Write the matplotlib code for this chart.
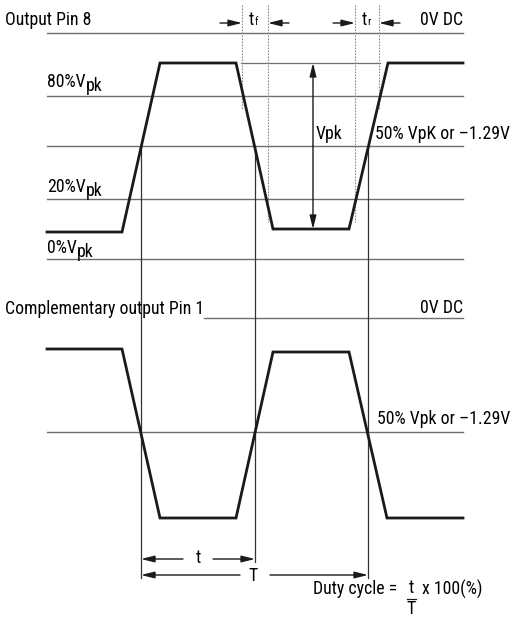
import matplotlib
matplotlib.use("Agg")
from matplotlib import pyplot as plt

plt.rcParams['font.family'] = ['Liberation Sans Narrow', 'DejaVu Sans Condensed', 'Roboto Condensed',
                               'Liberation Sans', 'DejaVu Sans']

# diagram coordinates (pixel-like units, y grows downward)
X_LEFT = 47
X_RIGHT = 463

# top waveform (Output Pin 8)
top_x = [47, 122, 160, 236, 273, 349, 388, 463]
top_y = [232, 232, 63, 63, 229, 229, 63, 63]

# bottom waveform (Complementary output Pin 1)
bot_x = [47, 122, 160, 236, 273, 349, 387, 463]
bot_y = [349, 349, 518, 518, 352, 352, 518, 518]

# reference levels (top)
level_names = ['0V DC', '80%', '50%', '20%', '0%']
level_y = [33, 96, 146, 199, 259]

# reference levels (bottom)
bot_dc_y = 318
bot_half_y = 432

# crossing markers
cross_x = [141, 255, 368]
tf_x = [242, 268]
tr_x = [355, 379]
tick_top = 5
dash_ends = [110, 222, 222, 110]

fig = plt.figure(figsize=(5.13, 6.17), dpi=100)
ax = fig.add_axes([0, 0, 1, 1])
ax.set_xlim(0, 513)
ax.set_ylim(617, 0)
ax.axis('off')

grey = '#6e6e6e'
ink = '#1a1a1a'
fs = 12.8

# horizontal reference lines
for name, y in zip(level_names, level_y):
    ax.plot([X_LEFT, X_RIGHT], [y, y], color=grey, lw=1.0)
ax.plot([241, 380], [63, 63], color=grey, lw=0.9)
ax.plot([204, X_RIGHT], [bot_dc_y, bot_dc_y], color=grey, lw=1.0)
ax.plot([X_LEFT, X_RIGHT], [bot_half_y, bot_half_y], color=grey, lw=1.0)

# dashed timing guides
for x, ye in zip(tf_x + tr_x, dash_ends):
    ax.plot([x, x], [tick_top, ye], color='#8a8a8a', lw=0.8, ls=(0, (1.5, 1.2)))

# vertical crossing lines
ax.plot([cross_x[0], cross_x[0]], [146, 578], color='#333333', lw=0.9)
ax.plot([cross_x[1], cross_x[1]], [146, 562], color='#333333', lw=0.9)
ax.plot([cross_x[2], cross_x[2]], [146, 578], color='#333333', lw=0.9)

# waveforms
ax.plot(top_x, top_y, color=ink, lw=2.0, solid_joinstyle='miter')
ax.plot(bot_x, bot_y, color=ink, lw=2.0, solid_joinstyle='miter')

arrow = dict(arrowstyle='-|>,head_length=0.8,head_width=0.2', color=ink, lw=1.0,
             shrinkA=0, shrinkB=0)


def sub_label(x, y, main, sub, size=fs):
    t = ax.text(x, y, main, fontsize=size, ha='left', va='baseline')
    ax.annotate(sub, xy=(1, 0), xycoords=t, fontsize=size,
                ha='left', va='baseline')


# tf / tr arrows
ax.annotate('', xy=(tf_x[0], 23), xytext=(220, 23), arrowprops=arrow)
ax.annotate('', xy=(tf_x[1], 23), xytext=(289, 23), arrowprops=arrow)
ax.annotate('', xy=(tr_x[0], 23), xytext=(333, 23), arrowprops=arrow)
ax.annotate('', xy=(tr_x[1], 23), xytext=(400, 23), arrowprops=arrow)
ta = ax.text(249, 25, 't', fontsize=fs, ha='left', va='baseline')
ax.annotate('f', xy=(1, 0.22), xycoords=ta, fontsize=fs * 0.6, ha='left', va='baseline')
tb = ax.text(362, 25, 't', fontsize=fs, ha='left', va='baseline')
ax.annotate('r', xy=(1, 0.22), xycoords=tb, fontsize=fs * 0.6, ha='left', va='baseline')

# Vpk double arrow
ax.annotate('', xy=(313, 63), xytext=(313, 146), arrowprops=arrow)
ax.annotate('', xy=(313, 229), xytext=(313, 146), arrowprops=arrow)
ax.text(316, 134, 'Vpk', fontsize=fs, ha='left', va='center')

# t / T arrows
ax.annotate('', xy=(cross_x[0], 559), xytext=(183, 559), arrowprops=arrow)
ax.annotate('', xy=(cross_x[1], 559), xytext=(213, 559), arrowprops=arrow)
ax.text(198, 558, 't', fontsize=fs, ha='center', va='center')
ax.annotate('', xy=(cross_x[0], 575), xytext=(240, 575), arrowprops=arrow)
ax.annotate('', xy=(cross_x[2], 575), xytext=(270, 575), arrowprops=arrow)
ax.text(253, 576, 'T', fontsize=fs, ha='center', va='center')

# labels
ax.text(5, 25, 'Output Pin 8', fontsize=fs, ha='left', va='baseline')
ax.text(X_RIGHT, 25, '0V DC', fontsize=fs, ha='right', va='baseline')
sub_label(47, 87, '80%V', 'pk')
sub_label(47, 192, '20%V', 'pk')
sub_label(47, 253, '0%V', 'pk')
ax.text(510, 134, '50% VpK or \u20131.29V', fontsize=fs, ha='right', va='center')

ax.text(5, 309, 'Complementary output Pin 1', fontsize=fs, ha='left', va='center')
ax.text(X_RIGHT, 308, '0V DC', fontsize=fs, ha='right', va='center')
ax.text(510, 419, '50% Vpk or \u20131.29V', fontsize=fs, ha='right', va='center')

# duty cycle formula
ax.text(313, 589, 'Duty cycle =', fontsize=fs, ha='left', va='center')
ax.text(411, 588, 't', fontsize=fs, ha='center', va='center')
ax.plot([407, 416], [599, 599], color=ink, lw=0.9)
ax.text(411, 609, 'T', fontsize=fs, ha='center', va='center')
ax.text(422, 589, 'x 100(%)', fontsize=fs, ha='left', va='center')

fig.savefig('out.png', dpi=100)
